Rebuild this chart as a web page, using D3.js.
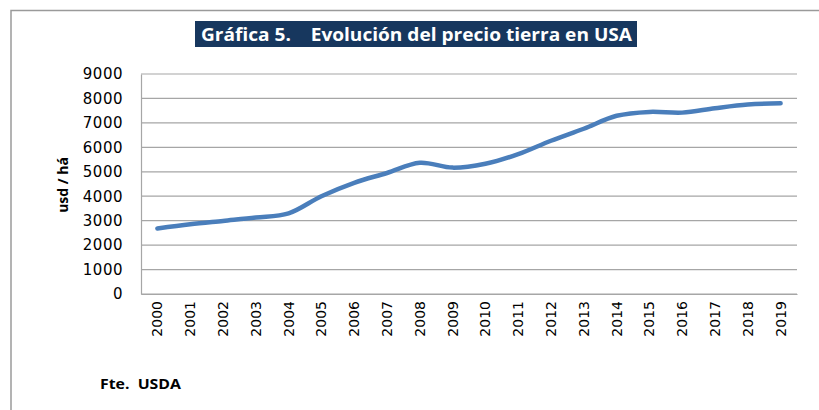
<!DOCTYPE html>
<html lang="es">
<head>
<meta charset="utf-8">
<title>Gráfica 5</title>
<script src="https://cdn.jsdelivr.net/npm/d3@7/dist/d3.min.js"></script>
<style>
    body { margin: 0; background: #fff; }
    svg { display: block; }
    .tick text { fill: #000; }
</style>
</head>
<body>
<svg width="819" height="410"></svg>
<script>
    // datos
    var years = ["2000","2001","2002","2003","2004","2005","2006","2007","2008","2009",
                 "2010","2011","2012","2013","2014","2015","2016","2017","2018","2019"];
    var prices = [2680, 2850, 2990, 3130, 3300, 4000, 4550, 4950, 5370, 5170,
                  5330, 5720, 6270, 6760, 7290, 7450, 7420, 7600, 7750, 7800];
    var yTicks = [0, 1000, 2000, 3000, 4000, 5000, 6000, 7000, 8000, 9000];

    var svg = d3.select("svg");
    var plotLeft = 141, plotRight = 797, plotTop = 74, plotBottom = 294;

    // marco exterior
    svg.append("path")
        .attr("d", "M11,410 V10.5 H819")
        .attr("fill", "none")
        .attr("stroke", "#9a9a9a")
        .attr("stroke-width", 1.5);

    // título
    svg.append("rect")
        .attr("x", 195).attr("y", 21)
        .attr("width", 442).attr("height", 26)
        .attr("fill", "#17375e");
    svg.append("text")
        .attr("x", 201).attr("y", 40.5)
        .attr("fill", "#fff")
        .attr("font-family", "'Open Sans', sans-serif")
        .attr("font-weight", "bold")
        .attr("font-size", 17)
        .attr("textLength", 431)
        .attr("lengthAdjust", "spacingAndGlyphs")
        .attr("xml:space", "preserve")
        .text("Gráfica 5.    Evolución del precio tierra en USA");

    var x = d3.scaleBand().domain(years).range([plotLeft, plotRight]);
    var y = d3.scaleLinear().domain([0, 9000]).range([plotBottom, plotTop]);

    // líneas de cuadrícula
    svg.append("g")
        .selectAll("line")
        .data(yTicks)
        .enter()
        .append("line")
        .attr("x1", plotLeft).attr("x2", plotRight)
        .attr("y1", function (d) { return y(d); })
        .attr("y2", function (d) { return y(d); })
        .attr("stroke", "#a6a6a6")
        .attr("stroke-width", 1.2);

    // eje y
    var yAxis = svg.append("g")
        .attr("transform", "translate(" + plotLeft + ",0)")
        .call(d3.axisLeft(y).tickValues(yTicks).tickFormat(d3.format("d")).tickSize(0).tickPadding(18));
    yAxis.select(".domain").attr("stroke", "#a6a6a6").attr("stroke-width", 1.2);
    yAxis.selectAll("text")
        .attr("font-family", "'DejaVu Sans', sans-serif")
        .attr("font-size", 15)
        .attr("letter-spacing", 0.5);

    // eje x
    var xAxis = svg.append("g")
        .attr("transform", "translate(0," + plotBottom + ")")
        .call(d3.axisBottom(x).tickSize(0));
    xAxis.select(".domain").attr("stroke", "#a6a6a6").attr("stroke-width", 1.2);
    xAxis.selectAll("text")
        .attr("font-family", "'DejaVu Sans', sans-serif")
        .attr("font-size", 14)
        .attr("transform", "rotate(-90)")
        .attr("text-anchor", "end")
        .attr("x", -7)
        .attr("y", 0)
        .attr("dy", "0.35em");

    // título eje y
    svg.append("text")
        .attr("transform", "translate(68,185) rotate(-90)")
        .attr("text-anchor", "middle")
        .attr("font-family", "'Open Sans', sans-serif")
        .attr("font-weight", "bold")
        .attr("font-size", 14)
        .text("usd / há");

    // serie
    var line = d3.line()
        .x(function (d, i) { return x(years[i]) + x.bandwidth() / 2; })
        .y(function (d) { return y(d); })
        .curve(d3.curveCatmullRom);
    svg.append("path")
        .datum(prices)
        .attr("d", line)
        .attr("fill", "none")
        .attr("stroke", "#4a7ebb")
        .attr("stroke-width", 4.5)
        .attr("stroke-linecap", "round");

    // fuente
    svg.append("text")
        .attr("x", 100).attr("y", 389)
        .attr("font-family", "'Open Sans', sans-serif")
        .attr("font-weight", "bold")
        .attr("font-size", 14)
        .attr("textLength", 81)
        .attr("lengthAdjust", "spacingAndGlyphs")
        .attr("xml:space", "preserve")
        .text("Fte.  USDA");
</script>
</body>
</html>
